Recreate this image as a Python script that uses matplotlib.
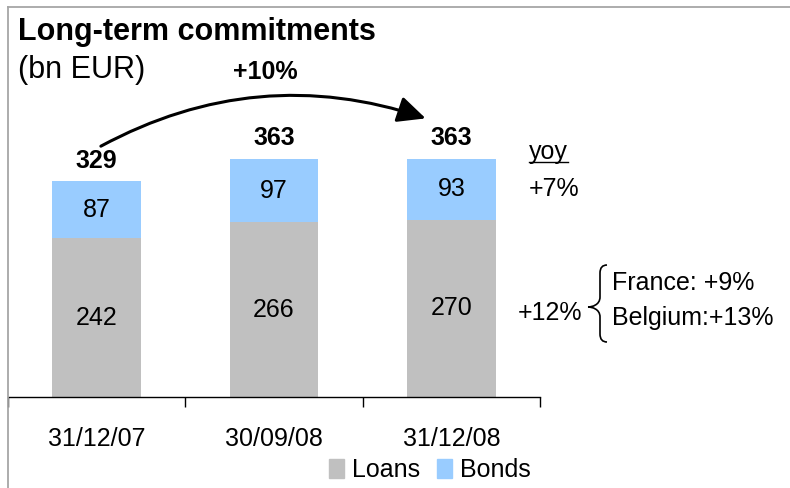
"""Long-term commitments stacked bar chart."""

import matplotlib.pyplot as plt
from matplotlib.lines import Line2D
from matplotlib.patches import FancyArrowPatch, Patch, PathPatch
from matplotlib.path import Path

plt.rcParams["font.family"] = ["Liberation Sans", "DejaVu Sans"]

categories = ["31/12/07", "30/09/08", "31/12/08"]
loans = [242, 266, 270]
bonds = [87, 97, 93]
totals = [329, 363, 363]
growth_label = "+10%"
yoy_bonds = "+7%"
yoy_loans = "+12%"
loans_split = ["France: +9%", "Belgium:+13%"]

LOANS_COLOR = "#c0c0c0"
BONDS_COLOR = "#99ccff"
FRAME_COLOR = "#a6a6a6"

W, H = 790, 488
fig = plt.figure(figsize=(W / 100, H / 100), dpi=100)

# outer frame (left and top lines only)
fig.add_artist(Line2D([8 / W, 8 / W], [0, 1 - 7 / H], color=FRAME_COLOR, lw=1.3))
fig.add_artist(Line2D([8 / W, 1], [1 - 7 / H, 1 - 7 / H], color=FRAME_COLOR, lw=1.3))

ax = fig.add_axes([8 / W, 91 / H, 532 / W, 390 / H])
x = list(range(len(categories)))
ax.bar(x, loans, width=0.5, color=LOANS_COLOR, label="Loans")
ax.bar(x, bonds, width=0.5, bottom=loans, color=BONDS_COLOR, label="Bonds")

for i in x:
    ax.text(i, loans[i] / 2, str(loans[i]), ha="center", va="center", fontsize=18)
    ax.text(i, loans[i] + bonds[i] / 2, str(bonds[i]), ha="center", va="center",
            fontsize=18)
    ax.annotate(str(totals[i]), (i, totals[i]), xytext=(0, 6), textcoords="offset points",
                ha="center", va="bottom", fontsize=18, fontweight="bold")

ax.set_xlim(-0.5, 2.5)
ax.set_ylim(0, 594)
for s in ["left", "top", "right"]:
    ax.spines[s].set_visible(False)
ax.spines["bottom"].set_linewidth(1.0)
ax.set_yticks([])
ax.set_xticks([-0.5, 0.5, 1.5, 2.5])
ax.set_xticklabels([])
ax.tick_params(axis="x", direction="out", length=7.5, width=1.0)
for i, cat in enumerate(categories):
    ax.annotate(cat, (i, 0), xytext=(0, -30), textcoords="offset points",
                ha="center", va="center", fontsize=18)

# growth arrow from first to last bar
arrow = FancyArrowPatch((0.01, 380), (1.87, 423), connectionstyle="arc3,rad=-0.22",
                        arrowstyle="-|>,head_length=0.85,head_width=0.4",
                        mutation_scale=20, color="black", lw=2.2)
ax.add_patch(arrow)
fig.text(265 / W, 1 - 72 / H, growth_label, ha="center", va="center", fontsize=18,
         fontweight="bold")

# titles
fig.text(18 / W, 1 - 32 / H, "Long-term commitments", ha="left", va="center",
         fontsize=22, fontweight="bold")
fig.text(18 / W, 1 - 70 / H, "(bn EUR)", ha="left", va="center", fontsize=22)

# yoy column
fig.text(529 / W, 1 - 152 / H, "yoy", ha="left", va="center", fontsize=18)
fig.add_artist(Line2D([529 / W, 568 / W], [1 - 162 / H, 1 - 162 / H], color="black",
                      lw=1.0))
fig.text(529 / W, 1 - 189 / H, yoy_bonds, ha="left", va="center", fontsize=18)
fig.text(518 / W, 1 - 313 / H, yoy_loans, ha="left", va="center", fontsize=18)
fig.text(612 / W, 1 - 283 / H, loans_split[0], ha="left", va="center", fontsize=18)
fig.text(612 / W, 1 - 318 / H, loans_split[1], ha="left", va="center", fontsize=18)

# curly brace
bx, top, mid, bot, tip = 600, 265, 307, 342, 588
verts = [
    (bx + 7, top), (bx, top), (bx, top + 8), (bx, mid - 10),
    (bx, mid - 2), (tip + 4, mid), (tip, mid),
    (tip + 4, mid), (bx, mid + 2), (bx, mid + 10),
    (bx, bot - 8), (bx, bot), (bx + 7, bot),
]
codes = [Path.MOVETO, Path.CURVE3, Path.CURVE3, Path.LINETO,
         Path.CURVE4, Path.CURVE4, Path.CURVE4,
         Path.CURVE4, Path.CURVE4, Path.CURVE4,
         Path.LINETO, Path.CURVE3, Path.CURVE3]
verts = [(vx / W, 1 - vy / H) for vx, vy in verts]
fig.add_artist(PathPatch(Path(verts, codes), transform=fig.transFigure, fill=False,
                         lw=1.2, color="black"))

handles = [Patch(color=LOANS_COLOR, label="Loans"), Patch(color=BONDS_COLOR, label="Bonds")]
fig.legend(handles=handles, loc="center", bbox_to_anchor=(430 / W, 1 - 470 / H), ncol=2,
           frameon=False, fontsize=18, handlelength=0.6, handleheight=0.8,
           handletextpad=0.3, columnspacing=0.7, borderpad=0)

fig.savefig("out.png", dpi=100)
